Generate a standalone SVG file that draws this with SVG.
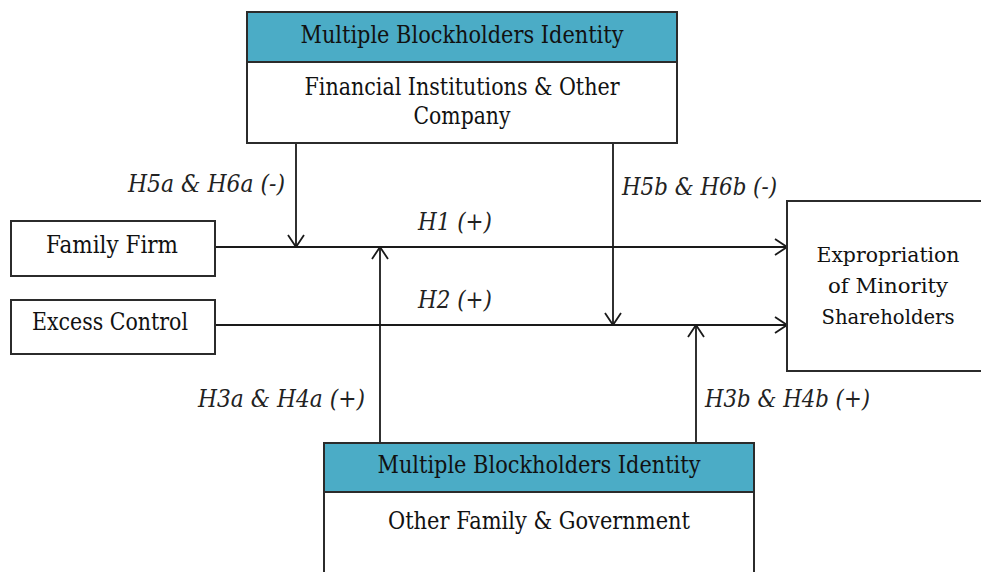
<svg xmlns="http://www.w3.org/2000/svg" width="981" height="572" viewBox="0 0 981 572">
<style>
.box{fill:#fff;stroke:#2b2b2b;stroke-width:2}
.hdr{fill:#4bacc6;stroke:#2b2b2b;stroke-width:2}
text{font-family:"DejaVu Serif","Liberation Serif",serif}
.t{font-size:24px;fill:#111;text-anchor:middle}
.s{font-size:21px}
.lbl{font-size:24px;font-style:italic;fill:#222}
.c{stroke:#1a1a1a;stroke-width:1.8;fill:none}
</style>
<defs>
<marker id="arr" viewBox="0 0 14 18" refX="13" refY="9" markerWidth="14" markerHeight="18" markerUnits="userSpaceOnUse" orient="auto">
<path d="M1,1 L13,9 L1,17" fill="none" stroke="#1a1a1a" stroke-width="1.8"/>
</marker>
</defs>
<rect width="981" height="572" fill="#fff"/>
<g id="connectors">
<line class="c" x1="215" y1="247" x2="787" y2="247" marker-end="url(#arr)"/>
<line class="c" x1="215" y1="325" x2="787" y2="325" marker-end="url(#arr)"/>
<line class="c" x1="296" y1="143" x2="296" y2="247" marker-end="url(#arr)"/>
<line class="c" x1="613" y1="143" x2="613" y2="325" marker-end="url(#arr)"/>
<line class="c" x1="380" y1="443" x2="380" y2="247" marker-end="url(#arr)"/>
<line class="c" x1="696" y1="443" x2="696" y2="325" marker-end="url(#arr)"/>
<text class="lbl" x="128" y="192" textLength="157" lengthAdjust="spacingAndGlyphs">H5a &amp; H6a (-)</text>
<text class="lbl" x="418" y="230" textLength="74" lengthAdjust="spacingAndGlyphs">H1 (+)</text>
<text class="lbl" x="418" y="308" textLength="74" lengthAdjust="spacingAndGlyphs">H2 (+)</text>
<text class="lbl" x="622" y="195" textLength="155" lengthAdjust="spacingAndGlyphs">H5b &amp; H6b (-)</text>
<text class="lbl" x="198" y="407" textLength="167" lengthAdjust="spacingAndGlyphs">H3a &amp; H4a (+)</text>
<text class="lbl" x="705" y="407" textLength="165" lengthAdjust="spacingAndGlyphs">H3b &amp; H4b (+)</text>
</g>
<g id="top-blockholders">
<rect class="box" x="247" y="12" width="430" height="131"/>
<rect class="hdr" x="247" y="12" width="430" height="50"/>
<text class="t" x="462" y="43" textLength="323" lengthAdjust="spacingAndGlyphs">Multiple Blockholders Identity</text>
<text class="t" x="462" y="95" textLength="315" lengthAdjust="spacingAndGlyphs">Financial Institutions &amp; Other</text>
<text class="t" x="462" y="124" textLength="97" lengthAdjust="spacingAndGlyphs">Company</text>
</g>
<g id="family-firm">
<rect class="box" x="11" y="221" width="204" height="55"/>
<text class="t" x="112" y="253" textLength="132" lengthAdjust="spacingAndGlyphs">Family Firm</text>
</g>
<g id="excess-control">
<rect class="box" x="11" y="300" width="204" height="54"/>
<text class="t" x="110" y="330" textLength="156" lengthAdjust="spacingAndGlyphs">Excess Control</text>
</g>
<g id="expropriation">
<path class="box" d="M981,201 H787 V371 H981"/>
<text class="t s" x="888" y="262" textLength="143" lengthAdjust="spacingAndGlyphs">Expropriation</text>
<text class="t s" x="888" y="293" textLength="120" lengthAdjust="spacingAndGlyphs">of Minority</text>
<text class="t s" x="888" y="324" textLength="133" lengthAdjust="spacingAndGlyphs">Shareholders</text>
</g>
<g id="bottom-blockholders">
<rect class="box" x="324" y="443" width="430" height="140"/>
<rect class="hdr" x="324" y="443" width="430" height="49"/>
<text class="t" x="539" y="473" textLength="323" lengthAdjust="spacingAndGlyphs">Multiple Blockholders Identity</text>
<text class="t" x="539" y="529" textLength="302" lengthAdjust="spacingAndGlyphs">Other Family &amp; Government</text>
</g>
</svg>
